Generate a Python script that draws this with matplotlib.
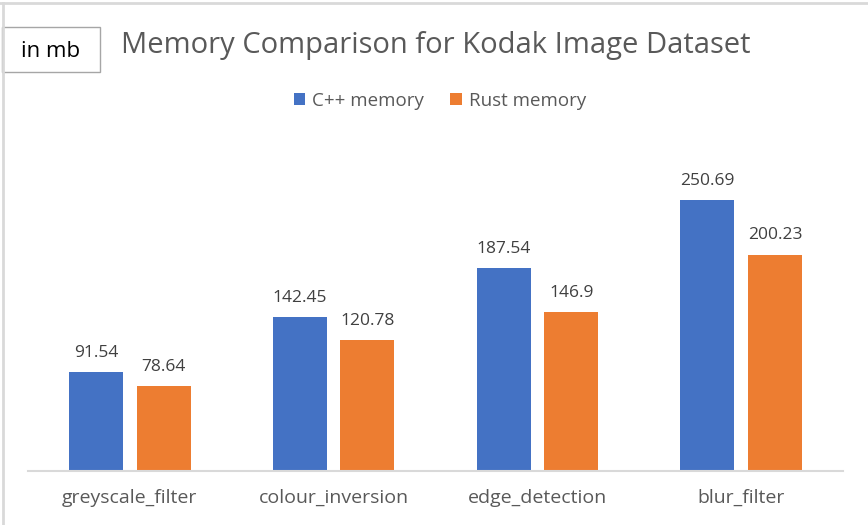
import numpy as np
import matplotlib.pyplot as plt
from matplotlib.patches import Rectangle
from matplotlib.lines import Line2D

plt.rcParams['font.family'] = ['Open Sans', 'DejaVu Sans']

categories = ['greyscale_filter', 'colour_inversion', 'edge_detection', 'blur_filter']
cpp_memory = [91.54, 142.45, 187.54, 250.69]
rust_memory = [78.64, 120.78, 146.9, 200.23]
cpp_labels = ['91.54', '142.45', '187.54', '250.69']
rust_labels = ['78.64', '120.78', '146.9', '200.23']

W, H = 868, 525
fig = plt.figure(figsize=(W / 100, H / 100), dpi=100)

# chart frame (grey border of the spreadsheet chart)
fig.add_artist(Line2D([0, 1], [1 - 3 / H, 1 - 3 / H], color='#d9d9d9', lw=2))
fig.add_artist(Line2D([3 / W, 3 / W], [0, 1 - 3 / H], color='#d9d9d9', lw=2))

# plot area in pixels
left, right, bottom, top = 28, 843, 471, 130
ax = fig.add_axes([left / W, 1 - bottom / H, (right - left) / W, (bottom - top) / H])

x = np.arange(len(categories))
w = 0.265
off = 0.166
b1 = ax.bar(x - off, cpp_memory, w, color='#4472c4')
b2 = ax.bar(x + off, rust_memory, w, color='#ed7d31')

for bars, labs in ((b1, cpp_labels), (b2, rust_labels)):
    for r, t in zip(bars, labs):
        ax.annotate(t, (r.get_x() + r.get_width() / 2, r.get_height()),
                    xytext=(0, 8), textcoords='offset points',
                    ha='center', va='bottom', fontsize=12.5, color='#404040')

ax.set_xlim(-0.5, len(categories) - 0.5)
ax.set_ylim(0, (bottom - top) / 1.081)
ax.set_xticks(x)
ax.set_xticklabels(categories, fontsize=14, color='#595959')
ax.tick_params(axis='x', length=0, pad=13)
ax.set_yticks([])
for s in ('top', 'right', 'left'):
    ax.spines[s].set_visible(False)
ax.spines['bottom'].set_color('#d9d9d9')
ax.spines['bottom'].set_linewidth(1.5)

# title
fig.text(436 / W, 1 - 45 / H, 'Memory Comparison for Kodak Image Dataset',
         ha='center', va='center', fontsize=21, color='#595959')

# "in mb" box
fig.add_artist(Rectangle((2 / W, 1 - 72 / H), 98 / W, 45 / H, transform=fig.transFigure,
                         facecolor='white', edgecolor='#a6a6a6', lw=1))
fig.text(51 / W, 1 - 51 / H, 'in mb', ha='center', va='center', fontsize=16, color='black')

# legend
ax.legend([b1, b2], ['C++ memory', 'Rust memory'], loc='center',
          bbox_to_anchor=(440 / W, 1 - 101 / H), bbox_transform=fig.transFigure,
          ncol=2, frameon=False, fontsize=13.5, labelcolor='#595959',
          handlelength=0.6, handleheight=0.6, handletextpad=0.4, columnspacing=1.4)

fig.savefig('out.png', dpi=100)
